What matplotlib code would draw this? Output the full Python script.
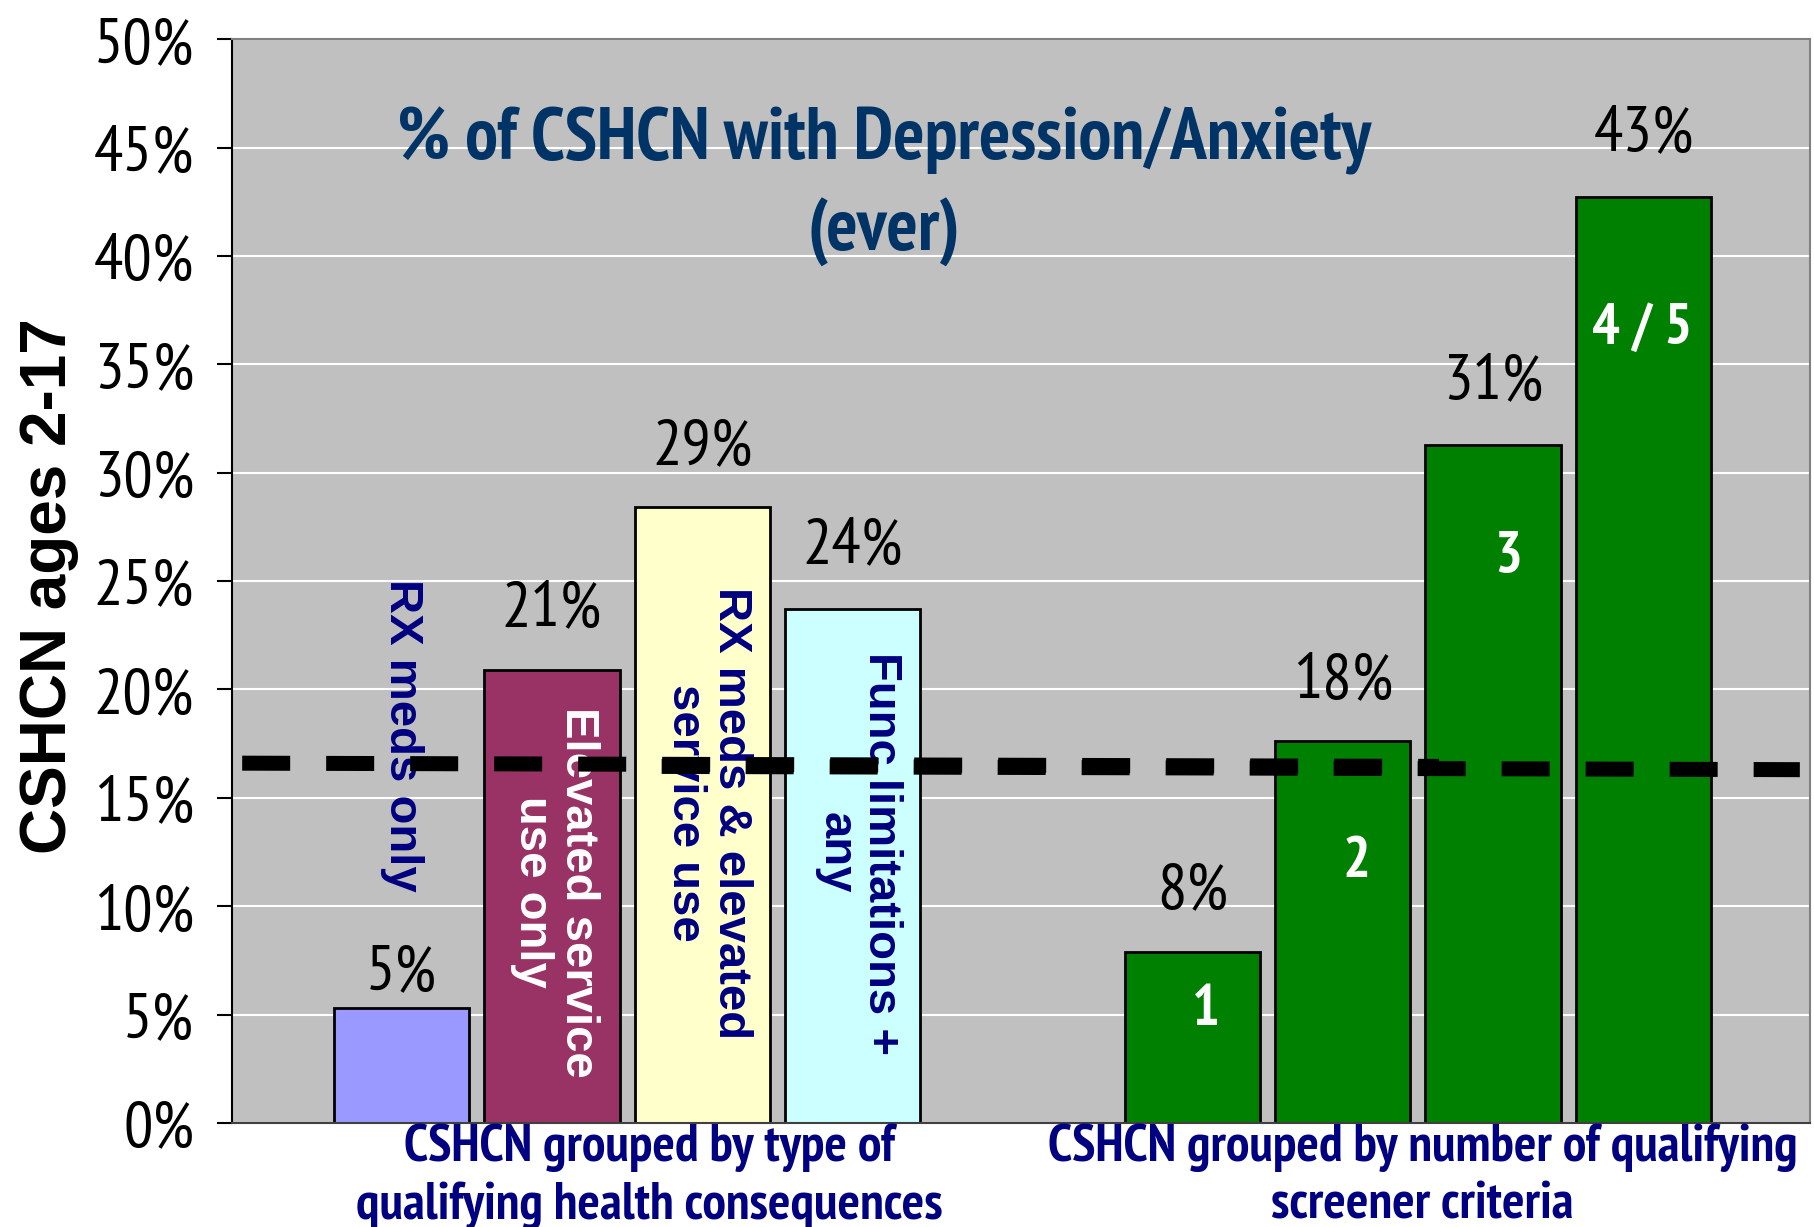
import numpy as np
import matplotlib
matplotlib.use("Agg")
import matplotlib.pyplot as plt
from matplotlib import font_manager as fm

# data
type_labels = ["RX meds only", "Elevated service\nuse only",
               "RX meds & elevated\nservice use", "Func limitations +\nany"]
type_values = [5.3, 20.9, 28.4, 23.7]
type_value_text = ["5%", "21%", "29%", "24%"]

count_labels = ["1", "2", "3", "4 / 5"]
count_values = [7.9, 17.6, 31.3, 42.7]
count_value_text = ["8%", "18%", "31%", "43%"]

# all-CSHCN reference line (two overlapping dashed segments)
ref_x1 = [0.07, 8.03]
ref_y1 = [16.6, 16.45]
ref_x2 = [2.86, 10.43]
ref_y2 = [16.45, 16.3]

yticks = np.arange(0, 51, 5)

NARROW_CHOICES = ["Liberation Sans Narrow", "Arial Narrow", "PT Sans Narrow",
                  "Archivo Narrow", "Roboto Condensed", "IBM Plex Sans Condensed",
                  "Open Sans Condensed"]


def pick_font(candidates, bold=False):
    for c in candidates:
        weights = [f.weight for f in fm.fontManager.ttflist
                   if f.name == c and f.style == "normal"]
        weights = [w if isinstance(w, int) else (700 if w == "bold" else 400)
                   for w in weights]
        if not weights:
            continue
        if bold and max(weights) < 650:
            continue
        return c
    return "DejaVu Sans"


NARROW = [pick_font(NARROW_CHOICES), "DejaVu Sans"]
NARROW_B = [pick_font(NARROW_CHOICES, bold=True), "DejaVu Sans"]
ARIAL = [pick_font(["Liberation Sans", "Arimo", "Arial"], bold=True), "DejaVu Sans"]
NAVY = "#000080"

fig = plt.figure(figsize=(18.14, 12.27), dpi=100)
ax = fig.add_axes([0.1277, 0.0848, 0.8703, 0.8832])
ax.set_facecolor("#C0C0C0")

x_type = 1.13 + np.arange(4)
x_count = 6.39 + np.arange(4)
width = 0.9

type_colors = ["#9999FF", "#993366", "#FFFFCC", "#CCFFFF"]
ax.bar(x_type, type_values, width=width, color=type_colors,
       edgecolor="black", linewidth=2, zorder=2)
ax.bar(x_count, count_values, width=width, color="#008000",
       edgecolor="black", linewidth=2, zorder=2)

# dashed reference line
for xs, ys in [(ref_x1, ref_y1), (ref_x2, ref_y2)]:
    ax.plot(xs, ys, color="black", linewidth=10.8, dashes=(3.2, 2.4),
            solid_capstyle="butt", dash_capstyle="butt", zorder=4)

# value labels above bars
offsets = [1.6, 2.8, 2.8, 2.9, 2.8, 2.8, 2.9, 2.9]
all_x = list(x_type) + list(x_count)
all_v = type_values + count_values
all_t = type_value_text + count_value_text
for xi, v, t, off in zip(all_x, all_v, all_t, offsets):
    ax.text(xi, v + off, t, ha="center", va="center", fontsize=47,
            family=NARROW, color="black", zorder=5)

# rotated category labels for the first group
rot_pos = [(1.13, 25.1, "top"), (2.15, 10.65, "center"),
           (3.17, 14.3, "center"), (4.17, 12.45, "center")]
rot_colors = [NAVY, "white", NAVY, NAVY]
for (xi, yi, va), lab, c in zip(rot_pos, type_labels, rot_colors):
    ax.text(xi, yi, lab, rotation=270, ha="center", va=va,
            multialignment="center", fontsize=34, fontweight="bold",
            family=ARIAL, color=c, linespacing=1.05, zorder=3)

# numbers inside the green bars
num_pos = [(6.48, 5.2), (7.48, 12.0), (8.49, 26.1), (9.38, 36.6)]
for (xi, yi), lab in zip(num_pos, count_labels):
    ax.text(xi, yi, lab, ha="center", va="center", fontsize=42,
            fontweight="bold", family=NARROW_B, color="white", zorder=5)

# title inside the plot
ax.text(4.34, 45.3, "% of CSHCN with Depression/Anxiety", ha="center",
        va="center", fontsize=53, fontweight="bold", family=NARROW_B,
        color="#003366", zorder=5)
ax.text(4.34, 41.1, "(ever)", ha="center", va="center", fontsize=53,
        fontweight="bold", family=NARROW_B, color="#003366", zorder=5)

# group captions under the axis
ax.text(2.78, -2.47, "CSHCN grouped by type of\nqualifying health consequences",
        ha="center", va="center", fontsize=38, fontweight="bold",
        family=NARROW_B, color=NAVY, linespacing=1.25, clip_on=False)
ax.text(7.92, -2.47, "CSHCN grouped by number of qualifying\nscreener criteria",
        ha="center", va="center", fontsize=38, fontweight="bold",
        family=NARROW_B, color=NAVY, linespacing=1.25, clip_on=False)

ax.set_xlim(0, 10.5)
ax.set_ylim(0, 50)
ax.set_yticks(yticks)
ax.set_yticklabels([f"{v}%" for v in yticks], fontsize=47, family=NARROW)
ax.tick_params(axis="y", length=11, width=1.5, pad=16, direction="out")
ax.set_xticks([])
ax.grid(axis="y", color="white", linewidth=1.5, zorder=1)
ax.set_axisbelow(True)

ax.spines["left"].set_color("black")
ax.spines["left"].set_linewidth(1.5)
ax.spines["bottom"].set_color("#404040")
ax.spines["bottom"].set_linewidth(1.5)
for s in ["top", "right"]:
    ax.spines[s].set_color("#808080")
    ax.spines[s].set_linewidth(1.5)

fig.text(0.027, 0.522, "CSHCN ages 2-17", rotation=90, ha="center",
         va="center", fontsize=46, fontweight="bold", family=ARIAL)

fig.savefig("out.png", dpi=100)
